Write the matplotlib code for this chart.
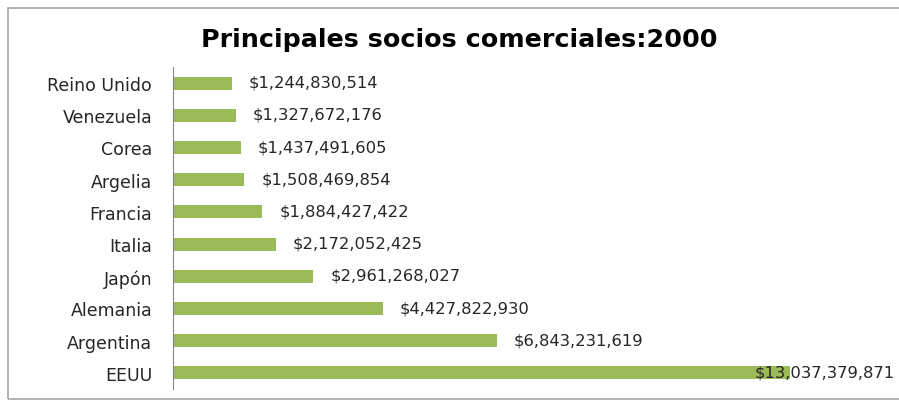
import matplotlib.pyplot as plt
import matplotlib.patches as mpatches

# trade partners, listed top to bottom
paises = ['Reino Unido', 'Venezuela', 'Corea', 'Argelia', 'Francia',
          'Italia', 'Japón', 'Alemania', 'Argentina', 'EEUU']
montos = [1244830514, 1327672176, 1437491605, 1508469854, 1884427422,
          2172052425, 2961268027, 4427822930, 6843231619, 13037379871]

W, H = 899, 402
fig = plt.figure(figsize=(W / 100, H / 100), dpi=100)
plt.rcParams['font.family'] = ['DejaVu Sans']

# outer chart frame
fig.patches.append(mpatches.Rectangle((8 / W, 2 / H), 1.0, 391 / H,
                                      transform=fig.transFigure, fill=False,
                                      edgecolor='#a6a6a6', linewidth=1.2))

ax_left, ax_right = 173 / W, 1.0
ax = fig.add_axes([ax_left, 12 / H, ax_right - ax_left, 322 / H])

# longest bar ends at about 790 px
bar_px = 790 - 173
ax_px = (ax_right - ax_left) * W
ax.set_xlim(0, max(montos) * ax_px / bar_px)

pos = list(range(len(paises)))
ax.barh(pos, montos, height=0.40, color='#9bbb59')
ax.set_ylim(len(paises) - 0.5, -0.5)
ax.set_yticks(pos)
ax.set_yticklabels(paises, fontsize=12.5, color='#262626')
ax.tick_params(axis='y', length=0, pad=15)
ax.set_xticks([])

for s in ['top', 'right', 'bottom']:
    ax.spines[s].set_visible(False)
ax.spines['left'].set_color('#868686')

px = max(montos) / bar_px
for i, v in enumerate(montos):
    txt = '${:,}'.format(v)
    if v == max(montos):
        # no room past the longest bar, so its label sits over the end
        ax.text(v + 105 * px, i - 0.03, txt, va='center', ha='right',
                fontsize=11.8, color='#262626')
    else:
        ax.text(v + 17 * px, i - 0.03, txt, va='center', ha='left',
                fontsize=11.8, color='#262626')

fig.text(459 / W, 1 - 40 / H, 'Principales socios comerciales:2000',
         ha='center', va='center', fontsize=18.3, fontweight='bold',
         color='black')

fig.savefig('out.png', dpi=100)
